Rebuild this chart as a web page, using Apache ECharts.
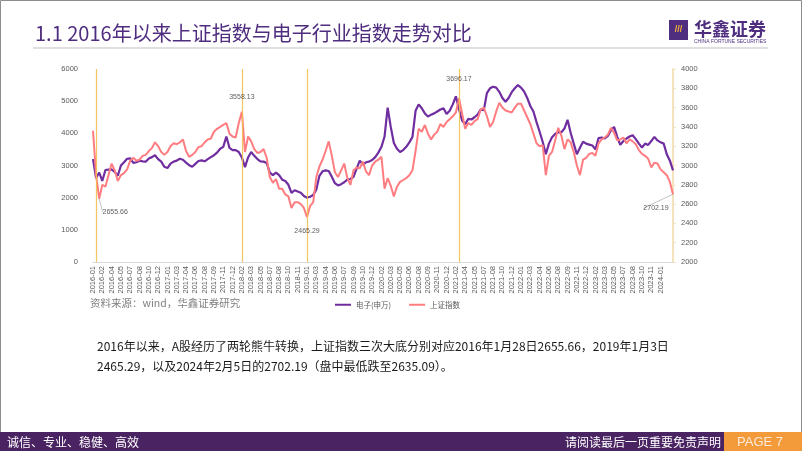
<!DOCTYPE html>
<html><head><meta charset="utf-8">
<script src="https://cdn.jsdelivr.net/npm/echarts@6/dist/echarts.min.js"></script>
<style>html,body{margin:0;padding:0;background:#fff}#c{width:802px;height:451px}</style>
</head><body><div id="c"></div>
<script>
// ---- data ----
const tickLabels = ['2016-01','2016-02','2016-04','2016-05','2016-07','2016-08','2016-10','2016-12','2017-01','2017-03','2017-04','2017-06','2017-08','2017-09','2017-11','2017-12','2018-02','2018-03','2018-05','2018-07','2018-08','2018-10','2018-11','2019-01','2019-03','2019-04','2019-06','2019-07','2019-09','2019-10','2019-12','2020-02','2020-03','2020-05','2020-06','2020-08','2020-09','2020-11','2020-12','2021-02','2021-04','2021-05','2021-07','2021-08','2021-10','2021-12','2022-01','2022-03','2022-04','2022-06','2022-08','2022-09','2022-11','2022-12','2023-02','2023-03','2023-05','2023-07','2023-08','2023-10','2023-11','2024-01'];
const pointsPerTick = 3;
const electronics = [3200,2610,2780,2520,2860,2870,2880,2800,2680,3000,3100,3210,3220,3080,3100,3150,3130,3120,3220,3260,3320,3200,3120,2960,2920,3060,3120,3150,3210,3180,3090,3010,2960,3050,3140,3160,3130,3200,3260,3320,3400,3520,3580,3900,3550,3480,3480,3420,3250,2950,3250,3420,3300,3200,3130,3120,3080,2780,2700,2780,2700,2560,2520,2400,2150,2230,2190,2150,2050,2000,2030,2080,2250,2680,2820,2850,2830,2650,2450,2380,2420,2480,2560,2580,2650,2900,3150,3030,3100,3120,3170,3260,3400,3580,3900,4800,4200,3700,3520,3420,3480,3580,3720,3890,4700,4900,4780,4620,4520,4580,4620,4680,4740,4780,4600,4700,4900,5150,4750,4400,4280,4450,4430,4500,4580,4740,4720,5250,5400,5450,5420,5290,5100,4980,5100,5280,5400,5500,5420,5300,5100,4850,4680,4350,4050,3730,3350,3680,3880,3980,4040,4030,4150,4420,4020,3680,3350,3550,3740,3680,3650,3620,3500,3850,3870,3840,3920,4100,4200,3900,3640,3760,3840,3900,3940,3820,3680,3560,3680,3640,3760,3890,3780,3720,3680,3350,3150,2850];
const shanghai = [3360,2900,2655.66,2800,2780,2900,3020,2950,2840,2900,2920,2960,3050,3080,3050,3060,3100,3110,3150,3180,3240,3200,3140,3110,3140,3200,3230,3220,3240,3270,3150,3090,3110,3140,3190,3200,3240,3270,3280,3350,3380,3400,3420,3440,3330,3300,3290,3440,3558.13,3140,3300,3250,3170,3130,3140,3170,3080,2880,2820,2860,2760,2760,2700,2680,2560,2620,2620,2600,2560,2465.29,2580,2620,2880,2990,3060,3150,3250,3100,2930,2880,2950,3020,2870,2800,2950,2980,2970,3040,2940,2900,3000,3040,3060,3090,2760,2870,2790,2680,2780,2830,2850,2870,2900,2950,3150,3380,3350,3420,3330,3270,3320,3350,3430,3400,3450,3480,3510,3550,3696.17,3540,3380,3440,3420,3460,3480,3580,3600,3510,3400,3450,3560,3650,3600,3570,3560,3550,3600,3640,3640,3570,3500,3430,3330,3230,3200,3210,2900,3100,3140,3260,3390,3310,3170,3270,3240,3140,3000,2900,3060,3080,3120,3130,3100,3230,3270,3290,3320,3390,3340,3260,3270,3290,3230,3270,3250,3220,3160,3120,3100,3070,2980,3030,3020,2960,2930,2900,2830,2702.19];
const eventIdx = [1, 48, 69, 118];          // vertical marker lines
const annotIdx = [2, 48, 69, 118, 187];     // annotated lows / highs
const annotVal = [2655.66, 3558.13, 2465.29, 3696.17, 2702.19];
const seriesNames = ['电子(申万)', '上证指数'];
const leftTicks = {min: 0, max: 6000, step: 1000};
const rightTicks = {min: 2000, max: 4000, step: 200};

// ---- build ----
const cats = electronics.map((_, k) => {
  const t = Math.floor(k / pointsPerTick);
  if (k % pointsPerTick === 0 && t < tickLabels.length) return tickLabels[t];
  return tickLabels[Math.min(t, tickLabels.length - 1)] + '#' + k;
});
const annotLayout = [
  {dx: 16, dy: 13, line: true},
  {dx: 0, dy: -15, line: false},
  {dx: 0, dy: 14, line: false},
  {dx: 0, dy: -19, line: false},
  {dx: -17, dy: 14, line: true}
];
const CJK = '"Noto Sans CJK SC", sans-serif';
const LAT = '"Liberation Sans", Arial, sans-serif';
const PURPLE = '#4f2d7f';

const chart = echarts.init(document.getElementById('c'), null, {renderer: 'canvas'});
chart.setOption({
  animation: false,
  backgroundColor: '#fff',
  textStyle: {fontFamily: LAT},
  grid: {left: 93, right: 129, top: 69, bottom: 189, containLabel: false},
  legend: {
    left: 330, top: 296, itemWidth: 16, itemHeight: 2, itemGap: 18, icon: 'rect',
    textStyle: {fontSize: 7.5, color: '#595959', fontFamily: CJK},
    data: seriesNames
  },
  xAxis: {
    type: 'category', data: cats, boundaryGap: false,
    axisLine: {show: true, lineStyle: {color: '#d9d9d9', width: 1}},
    axisTick: {show: false},
    axisLabel: {
      interval: (idx, v) => v.indexOf('#') < 0, rotate: 90, fontSize: 7.5, color: '#595959', margin: 4,
      formatter: v => v.split('#')[0]
    },
    splitLine: {show: false}
  },
  yAxis: [
    {type: 'value', min: leftTicks.min, max: leftTicks.max, interval: leftTicks.step,
     axisLine: {show: false}, axisTick: {show: false}, splitLine: {show: false},
     axisLabel: {fontSize: 7.5, color: '#595959', margin: 15, formatter: v => String(v)}},
    {type: 'value', position: 'right', min: rightTicks.min, max: rightTicks.max, interval: rightTicks.step,
     axisLine: {show: true, lineStyle: {color: '#f3e4bd', width: 2}},
     axisTick: {show: true, length: 3, lineStyle: {color: '#f3e4bd'}}, splitLine: {show: false},
     axisLabel: {fontSize: 7.5, color: '#595959', margin: 8, formatter: v => String(v)}}
  ],
  series: [
    {name: seriesNames[0], type: 'line', yAxisIndex: 0, data: electronics, showSymbol: false,
     lineStyle: {color: '#6f2da0', width: 2.2}, itemStyle: {color: '#6f2da0'}, z: 2},
    {name: seriesNames[1], type: 'line', yAxisIndex: 1, data: shanghai, showSymbol: false,
     lineStyle: {color: '#ff7c80', width: 2}, itemStyle: {color: '#ff7c80'}, z: 3,
     markLine: {silent: true, symbol: 'none', label: {show: false},
       lineStyle: {color: '#f2c14e', width: 1.2, type: 'solid', opacity: 0.9},
       data: eventIdx.map(i => ({xAxis: cats[i]}))}},
    {type: 'scatter', yAxisIndex: 1, symbolSize: 0, z: 5, silent: true,
     data: annotIdx.map((i, n) => ({value: [cats[i], annotVal[n]], labelLine: {show: annotLayout[n].line}})),
     label: {show: true, position: 'inside', fontSize: 7, color: '#333', fontFamily: LAT,
       formatter: p => annotVal[p.dataIndex].toFixed(2)},
     labelLine: {show: true, lineStyle: {color: '#999', width: 0.6}},
     labelLayout: p => ({dx: annotLayout[p.dataIndex].dx, dy: annotLayout[p.dataIndex].dy})}
  ],
  graphic: [
    {type: 'rect', shape: {x: 0.5, y: 0.5, width: 801, height: 450}, style: {fill: 'none', stroke: '#8c8c8c', lineWidth: 1}, z: 0},
    {type: 'text', x: 35, y: 33, style: {text: '1.1 2016年以来上证指数与电子行业指数走势对比', fill: PURPLE, font: '20px ' + CJK, textVerticalAlign: 'middle'}},
    {type: 'line', shape: {x1: 33, y1: 48, x2: 768, y2: 48}, style: {stroke: '#bfbfbf', lineWidth: 1}},
    {type: 'rect', shape: {x: 669, y: 20, width: 19, height: 20}, style: {fill: PURPLE}},
    {type: 'text', x: 678.5, y: 30, style: {text: '///', fill: '#f5b335', font: 'bold 9px ' + LAT, textAlign: 'center', textVerticalAlign: 'middle'}},
    {type: 'text', x: 694, y: 29, style: {text: '华鑫证券', fill: PURPLE, font: 'bold 18px ' + CJK, textVerticalAlign: 'middle'}},
    {type: 'text', x: 694, y: 42, style: {text: 'CHINA FORTUNE SECURITIES', fill: PURPLE, font: '5px ' + LAT, textVerticalAlign: 'middle'}},
    {type: 'text', x: 90, y: 303, style: {text: '资料来源：wind，华鑫证券研究', fill: '#808080', font: '10.5px ' + CJK, textVerticalAlign: 'middle'}},
    {type: 'text', x: 97, y: 346, style: {text: '2016年以来，A股经历了两轮熊牛转换，上证指数三次大底分别对应2016年1月28日2655.66，2019年1月3日', fill: '#1a1a1a', font: '12px ' + CJK, textVerticalAlign: 'middle'}},
    {type: 'text', x: 97, y: 366, style: {text: '2465.29，以及2024年2月5日的2702.19（盘中最低跌至2635.09）。', fill: '#1a1a1a', font: '12px ' + CJK, textVerticalAlign: 'middle'}},
    {type: 'rect', shape: {x: 0, y: 432, width: 724, height: 19}, style: {fill: '#4a2462'}},
    {type: 'rect', shape: {x: 724, y: 432, width: 78, height: 19}, style: {fill: '#f39b3a'}},
    {type: 'text', x: 7, y: 442, style: {text: '诚信、专业、稳健、高效', fill: '#fff', font: '12px ' + CJK, textVerticalAlign: 'middle'}},
    {type: 'text', x: 721, y: 442, style: {text: '请阅读最后一页重要免责声明', fill: '#fff', font: '12px ' + CJK, textAlign: 'right', textVerticalAlign: 'middle'}},
    {type: 'text', x: 737, y: 442, style: {text: 'PAGE 7', fill: '#fde9d9', font: '13px ' + LAT, textVerticalAlign: 'middle'}}
  ]
});
</script></body></html>
